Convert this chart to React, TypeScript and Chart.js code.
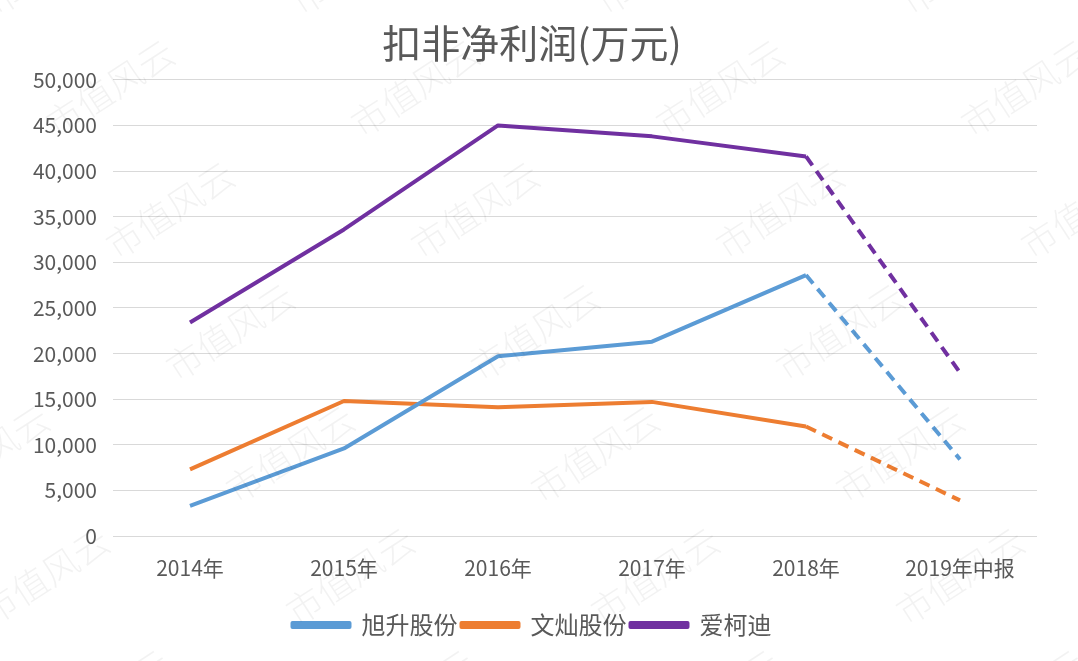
import React, { useEffect, useRef } from "react";
import { Chart, registerables } from "chart.js";

Chart.register(...registerables);

const categories = ["2014年", "2015年", "2016年", "2017年", "2018年", "2019年中报"];
const seriesNames = ["旭升股份", "文灿股份", "爱柯迪"];
const xuSheng = [3300, 9600, 19700, 21300, 28600, 8400];
const wenCan = [7300, 14800, 14100, 14700, 12000, 3900];
const aiKeDi = [23400, 33600, 45000, 43800, 41600, 17900];
const seriesColors = ["#5B9BD5", "#ED7D31", "#7030A0"];
const yMin = 0;
const yMax = 50000;
const yStep = 5000;
const titleText = "扣非净利润(万元)";
const watermarkText = "市值风云";

const FONT = "'Noto Sans CJK SC', 'Noto Sans', sans-serif";

const watermarkPlugin = {
  id: "watermark",
  afterDraw(chart: any) {
    const ctx = chart.ctx as CanvasRenderingContext2D;
    ctx.save();
    ctx.font = `300 36px ${FONT}`;
    ctx.fillStyle = "rgba(0,0,0,0.05)";
    ctx.textAlign = "center";
    ctx.textBaseline = "middle";
    for (let k = -2; k <= 6; k++) {
      for (let j = -2; j <= 5; j++) {
        const cx = 110 + 60 * k + 305 * j;
        const cy = 88 + 122 * k;
        if (cx < -150 || cx > 1230 || cy < -80 || cy > 740) continue;
        ctx.save();
        ctx.translate(cx, cy);
        ctx.rotate(-33 * Math.PI / 180);
        ctx.fillText(watermarkText, 0, 0);
        ctx.restore();
      }
    }
    ctx.restore();
  },
};

export default function App() {
  const ref = useRef<HTMLCanvasElement | null>(null);
  useEffect(() => {
    document.body.style.margin = "0";
    const canvas = ref.current!;
    const dash = (c: any) => (c.p0DataIndex >= 4 ? [11, 7] : undefined);
    const mk = (label: string, data: number[], color: string) => ({
      label,
      data,
      borderColor: color,
      backgroundColor: color,
      borderWidth: 4,
      pointRadius: 0,
      pointHoverRadius: 0,
      tension: 0,
      borderJoinStyle: "round" as const,
      borderCapStyle: "butt" as const,
      segment: { borderDash: dash },
    });
    const chart = new Chart(canvas, {
      type: "line",
      data: {
        labels: categories,
        datasets: [
          mk(seriesNames[0], xuSheng, seriesColors[0]),
          mk(seriesNames[1], wenCan, seriesColors[1]),
          mk(seriesNames[2], aiKeDi, seriesColors[2]),
        ],
      },
      options: {
        responsive: false,
        animation: false,
        layout: { padding: { left: 27, right: 41, top: 0, bottom: 14 } },
        plugins: {
          title: {
            display: true,
            text: titleText,
            color: "#595959",
            font: { family: FONT, size: 39, weight: "normal" as any },
            padding: { top: 20, bottom: 13 },
          },
          legend: {
            position: "bottom",
            labels: {
              color: "#595959",
              font: { family: FONT, size: 24 },
              boxWidth: 57,
              boxHeight: 4,
              padding: 4,
            },
          },
          tooltip: { enabled: false },
        },
        scales: {
          x: {
            offset: true,
            grid: { display: false, drawTicks: false },
            border: { display: false },
            ticks: {
              color: "#595959",
              font: { family: FONT, size: 21 },
              padding: 19,
              maxRotation: 0,
              autoSkip: false,
            },
            afterFit(scale: any) {
              scale.height = 73;
            },
          },
          y: {
            min: yMin,
            max: yMax,
            grid: { color: "#D9D9D9", lineWidth: 1, drawTicks: false },
            border: { display: false },
            ticks: {
              stepSize: yStep,
              color: "#595959",
              font: { family: FONT, size: 21 },
              padding: 16,
              callback: (v: any) => Number(v).toLocaleString("en-US"),
            },
            afterFit(scale: any) {
              scale.width = 86;
            },
          },
        },
      },
      plugins: [watermarkPlugin],
    });
    return () => chart.destroy();
  }, []);
  return (
    <div style={{ width: 1078, height: 661, background: "#fff" }}>
      <canvas ref={ref} width={1078} height={661} />
    </div>
  );
}
